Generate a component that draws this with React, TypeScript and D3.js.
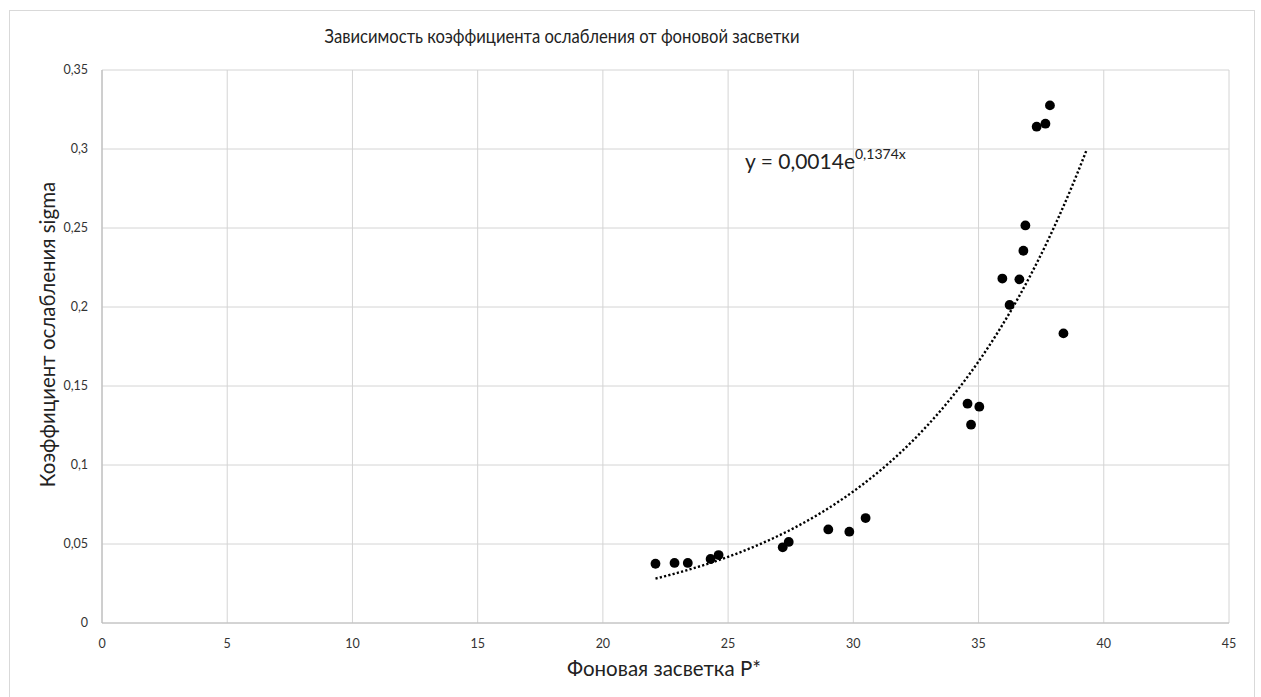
import React from "react";
import * as d3 from "d3";

// measured points (background illumination P*, attenuation sigma)
const pValues = [
  22.1, 22.86, 23.39, 24.3, 24.62, 27.18, 27.42, 29.0, 29.84, 30.49,
  34.56, 35.03, 34.7, 35.95, 36.24, 36.63, 36.79, 36.87, 37.32, 37.67, 37.85, 38.39,
];
const sigmaValues = [
  0.0375, 0.038, 0.038, 0.0405, 0.043, 0.0479, 0.0513, 0.0592, 0.0578, 0.0664,
  0.1388, 0.1369, 0.1255, 0.218, 0.2013, 0.2175, 0.2356, 0.2516, 0.3141, 0.316, 0.3276, 0.1833,
];

const xTicks = [0, 5, 10, 15, 20, 25, 30, 35, 40, 45];
const yTicks = [0, 0.05, 0.1, 0.15, 0.2, 0.25, 0.3, 0.35];

// exponential trendline y = a * e^(b x) (label shows rounded coefficients)
const trendA = 0.00135;
const trendB = 0.1374;
const trendForward = 1;
const trendLabel = "y = 0,0014e";
const trendLabelExp = "0,1374x";

const W = 1261;
const H = 697;
const margin = { top: 70, right: 32, bottom: 74, left: 102 };

const fmt = (v: number) => String(+v.toFixed(2)).replace(".", ",");

export default function App() {
  const x = d3.scaleLinear().domain([0, 45]).range([margin.left, W - margin.right]);
  const y = d3.scaleLinear().domain([0, 0.35]).range([H - margin.bottom, margin.top]);

  const xMin = d3.min(pValues) as number;
  const xMax = (d3.max(pValues) as number) + trendForward;
  const trendXs = d3.range(xMin, xMax + 0.001, 0.1);
  const line = d3
    .line<number>()
    .x((d) => x(d))
    .y((d) => y(trendA * Math.exp(trendB * d)));

  const points = pValues.map((p, i) => ({ p, s: sigmaValues[i] }));
  const font = "Lato, 'Open Sans', sans-serif";

  return (
    <svg
      width={W}
      height={H}
      style={{ position: "absolute", left: 0, top: 0, background: "#fff" }}
      fontFamily={font}
    >
      <rect x={9.5} y={10.5} width={1245} height={690} fill="#fff" stroke="#d9d9d9" />

      <text x={562} y={43} textAnchor="middle" fontSize={19} fill="#222" textLength={475} lengthAdjust="spacingAndGlyphs">
        Зависимость коэффициента ослабления от фоновой засветки
      </text>

      {/* grid */}
      {yTicks.map((t) => (
        <line key={"gy" + t} x1={x(0)} x2={x(45)} y1={y(t)} y2={y(t)} stroke="#d4d4d4" strokeWidth={1} />
      ))}
      {xTicks.map((t) => (
        <line key={"gx" + t} x1={x(t)} x2={x(t)} y1={y(0)} y2={y(0.35)} stroke="#d4d4d4" strokeWidth={1} />
      ))}
      <line x1={x(0)} x2={x(45)} y1={y(0)} y2={y(0)} stroke="#bdbdbd" strokeWidth={1.2} />
      <line x1={x(0)} x2={x(0)} y1={y(0)} y2={y(0.35)} stroke="#bdbdbd" strokeWidth={1.2} />

      {/* tick labels */}
      {yTicks.map((t) => (
        <text key={"ly" + t} x={x(0) - 14} y={y(t)} dy="0.35em" textAnchor="end" fontSize={12.5} fill="#333">
          {fmt(t)}
        </text>
      ))}
      {xTicks.map((t) => (
        <text key={"lx" + t} x={x(t)} y={y(0) + 25} textAnchor="middle" fontSize={12.5} fill="#333">
          {fmt(t)}
        </text>
      ))}

      <text x={664} y={676} textAnchor="middle" fontSize={20.5} fill="#222">
        Фоновая засветка P*
      </text>
      <text
        transform={`translate(55, ${(y(0) + y(0.35)) / 2 - 12}) rotate(-90)`}
        textAnchor="middle"
        fontSize={20.5}
        fill="#222"
      >
        Коэффициент ослабления sigma
      </text>

      {/* trendline */}
      <path d={line(trendXs) || ""} fill="none" stroke="#000" strokeWidth={2.4} strokeDasharray="2.2 2.2" />

      {/* points */}
      {points.map((d, i) => (
        <circle key={i} cx={x(d.p)} cy={y(d.s)} r={4.9} fill="#000" />
      ))}

      <text x={745} y={169} fontSize={21} fill="#222">
        {trendLabel}
        <tspan dy={-10} fontSize={14}>
          {trendLabelExp}
        </tspan>
      </text>
    </svg>
  );
}
